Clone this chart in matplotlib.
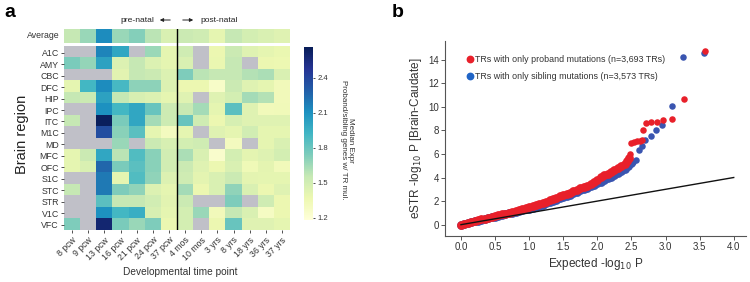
import numpy as np
import matplotlib
matplotlib.use("Agg")
import matplotlib.pyplot as plt
from matplotlib.lines import Line2D

plt.rcParams['font.family'] = ['Liberation Sans', 'DejaVu Sans']

# ---------------- data: panel a ----------------
timepoints = ["8 pcw", "9 pcw", "13 pcw", "16 pcw", "21 pcw", "24 pcw", "37 pcw",
              "4 mos", "10 mos", "3 yrs", "8 yrs", "18 yrs", "36 yrs", "37 yrs"]
regions = ["A1C", "AMY", "CBC", "DFC", "HIP", "IPC", "ITC", "M1C", "MD",
           "MFC", "OFC", "S1C", "STC", "STR", "V1C", "VFC"]
nan = np.nan
average = [1.55, 1.67, 2.12, 1.67, 1.72, 1.58, 1.46, 1.53, 1.51, 1.40, 1.55, 1.49, 1.46, 1.43]
A1C = [nan, nan, 2.15, 2.00, nan, 1.66, 1.40, 1.51, nan, 1.37, 1.53, 1.43, 1.40, 1.38]
AMY = [1.75, 1.68, 2.02, 1.45, 1.55, 1.45, 1.40, 1.46, nan, 1.38, 1.55, nan, 1.37, 1.36]
CBC = [nan, nan, nan, 1.42, 1.55, 1.53, 1.45, 1.735, 1.58, 1.55, 1.55, 1.60, 1.62, 1.46]
DFC = [1.40, 1.91, 2.12, 1.90, 1.70, 1.70, 1.45, 1.37, 1.37, 1.26, 1.53, 1.43, 1.40, 1.32]
HIP = [1.55, 1.53, 2.02, 1.55, 1.47, 1.45, 1.40, 1.43, nan, 1.43, 1.49, 1.64, 1.60, 1.32]
IPC = [nan, nan, 2.10, 1.91, 2.00, 1.80, 1.52, 1.54, 1.64, 1.40, 1.84, 1.43, 1.32, 1.33]
ITC = [1.55, nan, 2.64, 1.75, 2.00, 1.64, 1.52, 1.80, 1.51, 1.37, 1.48, 1.43, 1.43, 1.43]
M1C = [nan, nan, 2.36, 1.71, 1.84, 1.40, 1.30, 1.40, nan, 1.43, 1.40, 1.50, 1.40, 1.40]
MD = [nan, nan, nan, 1.67, nan, 1.53, 1.47, 1.49, 1.51, nan, 1.30, nan, 1.40, 1.46]
MFC = [1.40, 1.53, 2.00, 1.58, 1.87, 1.71, 1.50, 1.62, 1.46, 1.24, 1.49, 1.41, 1.44, 1.49]
OFC = [1.40, 1.46, 2.26, 1.75, 1.84, 1.71, 1.50, 1.53, 1.43, 1.37, 1.46, 1.34, 1.41, 1.32]
S1C = [nan, nan, 2.19, 1.40, 1.87, 1.69, 1.45, 1.51, 1.41, 1.46, 1.53, 1.41, 1.40, 1.40]
STC = [1.55, nan, 2.19, 1.735, 1.69, 1.45, 1.40, 1.64, 1.37, 1.46, 1.69, 1.46, 1.37, 1.43]
STR = [nan, nan, 1.84, 1.55, 1.55, 1.50, 1.42, 1.53, nan, nan, 1.735, nan, 1.51, 1.37]
V1C = [nan, nan, 2.10, 1.91, 1.96, 1.47, 1.40, 1.49, 1.67, 1.32, 1.55, 1.46, 1.28, 1.37]
VFC = [1.735, nan, 2.58, 1.75, 1.67, 1.735, 1.38, 1.49, nan, 1.37, 1.80, 1.43, 1.43, 1.40]
region_values = [A1C, AMY, CBC, DFC, HIP, IPC, ITC, M1C, MD, MFC, OFC, S1C, STC, STR, V1C, VFC]
cbar_ticks = [1.2, 1.5, 1.8, 2.1, 2.4]

# ---------------- data: panel b ----------------
# dense part of the QQ curves (overlapping points forming a band)
red_band_x = [0.00, 0.05, 0.10, 0.15, 0.20, 0.25, 0.30, 0.35, 0.40, 0.45, 0.50, 0.55, 0.60, 0.65,
              0.70, 0.75, 0.80, 0.85, 0.90, 0.95, 1.00, 1.05, 1.10, 1.15, 1.20, 1.25, 1.30, 1.35,
              1.40, 1.45, 1.50, 1.55, 1.60, 1.65, 1.70, 1.75, 1.80, 1.85, 1.90, 1.95, 2.00, 2.05,
              2.10, 2.15, 2.20, 2.25, 2.30, 2.35, 2.40, 2.43, 2.46]
red_band_y = [-0.05, 0.05, 0.14, 0.22, 0.30, 0.37, 0.44, 0.51, 0.58, 0.65, 0.72, 0.80, 0.87, 0.94,
              1.01, 1.08, 1.15, 1.22, 1.30, 1.38, 1.47, 1.56, 1.65, 1.75, 1.85, 1.96, 2.07, 2.18,
              2.29, 2.40, 2.51, 2.62, 2.72, 2.83, 2.95, 3.07, 3.19, 3.32, 3.46, 3.62, 3.80, 4.02,
              4.18, 4.33, 4.48, 4.65, 4.83, 5.00, 5.15, 5.40, 5.65]
blue_band_x = [0.00, 0.05, 0.10, 0.15, 0.20, 0.25, 0.30, 0.35, 0.40, 0.45, 0.50, 0.55, 0.60, 0.65,
               0.70, 0.75, 0.80, 0.85, 0.90, 0.95, 1.00, 1.05, 1.10, 1.15, 1.20, 1.25, 1.30, 1.35,
               1.40, 1.45, 1.50, 1.55, 1.60, 1.65, 1.70, 1.75, 1.80, 1.85, 1.90, 1.95, 2.00, 2.05,
               2.10, 2.15, 2.20, 2.25, 2.30, 2.35, 2.40, 2.45, 2.50]
blue_band_y = [-0.05, 0.04, 0.12, 0.20, 0.28, 0.35, 0.42, 0.49, 0.55, 0.62, 0.68, 0.75, 0.82, 0.88,
               0.95, 1.02, 1.08, 1.15, 1.22, 1.29, 1.37, 1.45, 1.53, 1.62, 1.71, 1.80, 1.90, 2.00,
               2.11, 2.22, 2.33, 2.44, 2.55, 2.66, 2.78, 2.90, 3.02, 3.14, 3.27, 3.40, 3.53, 3.66,
               3.80, 3.93, 4.07, 4.22, 4.38, 4.55, 4.75, 5.00, 5.25]
# sparse tail points
red_tail_x = [2.48, 2.50, 2.54, 2.58, 2.62, 2.65, 2.67, 2.72, 2.79, 2.87, 2.97, 3.09, 3.27, 3.575]
red_tail_y = [6.00, 6.95, 7.05, 7.08, 7.12, 7.15, 8.00, 8.60, 8.70, 8.70, 8.87, 8.95, 10.62, 14.72]
blue_tail_x = [2.53, 2.57, 2.61, 2.65, 2.70, 2.78, 2.86, 2.95, 3.09, 3.25, 3.56]
blue_tail_y = [5.35, 5.50, 6.30, 6.65, 7.20, 7.50, 8.00, 8.45, 10.06, 14.24, 14.55]
diag = [0.0, 4.0]
red_label = "TRs with only proband mutations (n=3,693 TRs)"
blue_label = "TRs with only sibling mutations (n=3,573 TRs)"

RED = '#e8202a'
BLUE = '#3a55b0'
BLUE_LEG = '#2064c6'

W, H = 750, 282
fig = plt.figure(figsize=(7.5, 2.82), dpi=100)

def fx(px):
    return px / W

def fy(py):
    return 1 - py / H

# ---------------- panel a: heatmap ----------------
top_px, bot_px = 29.3, 230.3
ax = fig.add_axes([fx(64), fy(bot_px), fx(290) - fx(64), fy(top_px) - fy(bot_px)])
cmap = plt.get_cmap('YlGnBu').copy()
cmap.set_bad('#c0c0c8')
vmin, vmax = 1.18, 2.66
avg_h = 1.17
gap_top = 1.55
n_reg = len(regions)
ax.set_facecolor('white')
im_avg = ax.imshow(np.array([average], dtype=float), cmap=cmap, vmin=vmin, vmax=vmax,
                   aspect='auto', interpolation='nearest',
                   extent=(0, len(timepoints), avg_h, 0), origin='upper')
im = ax.imshow(np.array(region_values, dtype=float), cmap=cmap, vmin=vmin, vmax=vmax,
               aspect='auto', interpolation='nearest',
               extent=(0, len(timepoints), gap_top + n_reg, gap_top), origin='upper')
ax.set_xlim(0, len(timepoints))
ax.set_ylim(gap_top + n_reg, 0)
for s in ax.spines.values():
    s.set_visible(False)
ax.axvline(7, color='black', lw=1.0)
ax.set_yticks([gap_top + i + 0.5 for i in range(n_reg)])
ax.set_yticklabels(regions, fontsize=6.3, color='#333333')
ax.set_xticks([i + 0.5 for i in range(len(timepoints))])
ax.set_xticklabels(timepoints, fontsize=6.3, rotation=45, ha='right',
                   rotation_mode='anchor', color='#333333')
ax.tick_params(axis='both', length=2.2, width=0.6, color='#333333', pad=1.5)
ax.text(-0.25, avg_h / 2, "Average", ha='right', va='center', fontsize=6.3, color='#333333')
fig.text(fx(180), fy(272), "Developmental time point", ha='center', va='center',
         fontsize=7.3, color='#333333')
fig.text(fx(22), fy(134), "Brain region", ha='center', va='center', rotation=90,
         fontsize=10.5, color='#222222')

# pre/post natal arrows
fig.text(fx(154), fy(20), "pre-natal", ha='right', va='center', fontsize=6.1, color='#222222')
fig.text(fx(200), fy(20), "post-natal", ha='left', va='center', fontsize=6.1, color='#222222')
fig.add_artist(matplotlib.patches.FancyArrowPatch((fx(173), fy(20)), (fx(157), fy(20)),
               transform=fig.transFigure, arrowstyle='-|>', mutation_scale=5,
               lw=0.7, color='#222222'))
fig.add_artist(matplotlib.patches.FancyArrowPatch((fx(180), fy(20)), (fx(196), fy(20)),
               transform=fig.transFigure, arrowstyle='-|>', mutation_scale=5,
               lw=0.7, color='#222222'))

# colorbar
cax = fig.add_axes([fx(304.3), fy(220), fx(313.3) - fx(304.3), fy(47.3) - fy(220)])
cb = fig.colorbar(im, cax=cax, ticks=cbar_ticks)
cb.outline.set_visible(False)
cb.ax.set_yticklabels([f"{t:.1f}" for t in cbar_ticks])
cb.ax.tick_params(labelsize=5.5, length=1.5, width=0.6, pad=1.5, colors='#333333')
fig.text(fx(347), fy(140), "Median Expr\nProband/sibling genes w/ TR mul.", rotation=270,
         ha='center', va='center', fontsize=5.8, color='#333333', linespacing=1.1)

fig.text(fx(4), fy(4), "a", ha='left', va='top', fontsize=14, fontweight='bold')
fig.text(fx(392), fy(4), "b", ha='left', va='top', fontsize=14, fontweight='bold')

# ---------------- panel b: QQ plot ----------------
bx = fig.add_axes([fx(445), fy(236), fx(746) - fx(445), fy(40.7) - fy(236)])
bx.scatter(blue_band_x, blue_band_y, s=40, color=BLUE, linewidths=0, zorder=2)
bx.scatter(blue_tail_x, blue_tail_y, s=22, color=BLUE, linewidths=0, zorder=2)
bx.scatter(red_band_x, red_band_y, s=40, color=RED, linewidths=0, zorder=3)
bx.scatter(red_tail_x, red_tail_y, s=22, color=RED, linewidths=0, zorder=3)
bx.plot(diag, diag, color='#111111', lw=1.0, zorder=4)
bx.set_xlim(-0.234, 4.18)
bx.set_ylim(-0.96, 15.6)
xt = [0.0, 0.5, 1.0, 1.5, 2.0, 2.5, 3.0, 3.5, 4.0]
bx.set_xticks(xt)
bx.set_xticklabels([f"{v:.1f}" for v in xt])
bx.set_yticks([0, 2, 4, 6, 8, 10, 12, 14])
for side in ['top', 'right']:
    bx.spines[side].set_visible(False)
for side in ['left', 'bottom']:
    bx.spines[side].set_color('#555555')
    bx.spines[side].set_linewidth(0.8)
bx.tick_params(axis='both', labelsize=7, length=3, width=0.7, color='#555555',
               labelcolor='#333333', pad=1.5)
bx.set_xlabel(r"Expected -log$_{10}$ P", fontsize=8.5, color='#333333', labelpad=3)
bx.set_ylabel(r"eSTR -log$_{10}$ P [Brain-Caudate]", fontsize=8.5, color='#333333', labelpad=3)
handles = [Line2D([], [], marker='o', ls='', color=RED, markersize=4.6, label=red_label),
           Line2D([], [], marker='o', ls='', color=BLUE_LEG, markersize=4.6, label=blue_label)]
bx.legend(handles=handles, loc='upper left', bbox_to_anchor=(0.055, 0.945), frameon=False,
          fontsize=6.4, handletextpad=0.15, labelspacing=0.95, borderaxespad=0.0,
          handlelength=1.0, labelcolor='#333333')

fig.savefig("out.png", dpi=100)
